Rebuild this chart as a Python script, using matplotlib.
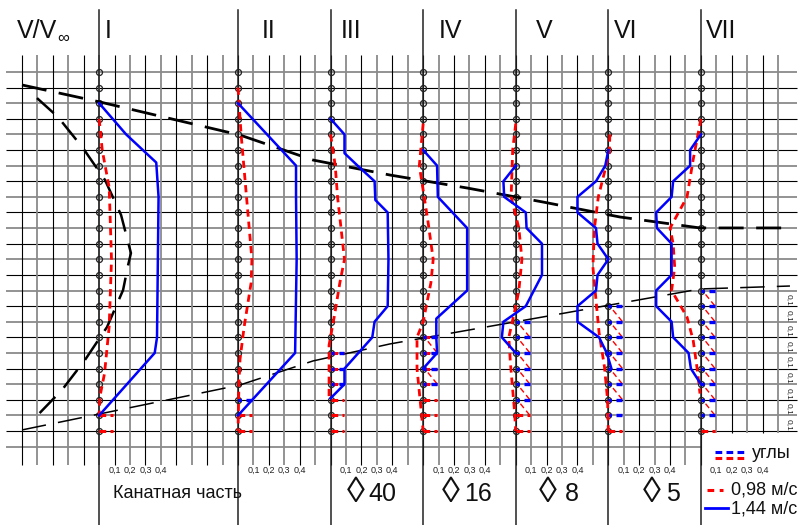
import matplotlib
matplotlib.use('Agg')
import matplotlib.pyplot as plt
import numpy as np

plt.rcParams['font.family'] = ['Liberation Sans', 'DejaVu Sans']

# ---------------- data ----------------
stations = ['I', 'II', 'III', 'IV', 'V', 'VI', 'VII']
station_col = [5, 14, 20, 26, 32, 38, 44]          # grid column of each baseline
n_rows = 24                                          # measuring points per station
tick_vals = [0.1, 0.2, 0.3, 0.4]
tick_labels = ['0,1', '0,2', '0,3', '0,4']

# V/Vinf profiles: rows (point index) and offsets from baseline
red_I_rows = [3, 5, 7.4, 12, 16.3, 19.3, 20.8, 22]
red_I_vals = [0, 0.02, 0.065, 0.08, 0.065, 0.035, 0.005, 0]
blue_I_rows = [2, 4, 5.8, 8, 17, 18, 22]
blue_I_vals = [0, 0.175, 0.37, 0.385, 0.375, 0.36, 0]

red_II_rows = [1, 4, 8, 12, 13.5, 16.3, 18.4, 19.9, 23]
red_II_vals = [0, 0.02, 0.055, 0.09, 0.085, 0.04, 0.013, 0.006, 0]
blue_II_rows = [2, 6, 8, 12, 18, 22]
blue_II_vals = [0, 0.376, 0.376, 0.38, 0.37, 0]

red_III_rows = [4, 6, 8, 12, 13.5, 15.6, 17.5, 21]
red_III_vals = [0, 0.03, 0.045, 0.09, 0.06, 0.025, -0.01, -0.01]
blue_III_rows = [3, 4, 5.2, 6, 7, 8.2, 9, 12, 15, 16, 17, 19, 20, 20.9]
blue_III_vals = [0, 0.09, 0.09, 0.175, 0.285, 0.29, 0.37, 0.375, 0.37, 0.285, 0.27, 0.09, 0.09, 0]

red_IV_rows = [3.3, 6, 9.5, 12, 13.5, 16, 17, 19, 21, 23]
red_IV_vals = [0, -0.025, 0.03, 0.065, 0.05, 0, -0.04, -0.04, -0.02, 0]
blue_IV_rows = [5, 6, 8, 10, 14, 15.8, 17, 18, 19]
blue_IV_vals = [0, 0.09, 0.095, 0.285, 0.285, 0.085, 0.085, 0.09, 0]

red_V_rows = [3.3, 5, 8, 10, 12, 14, 15, 17, 18.6, 21.5, 23]
red_V_vals = [0, -0.02, -0.03, 0.02, 0.04, 0.02, 0, -0.045, -0.035, -0.01, 0]
blue_V_rows = [6, 7, 8, 9, 10, 11, 13, 15, 16, 17, 18]
blue_V_vals = [0, -0.08, -0.075, 0.065, 0.07, 0.17, 0.17, 0.065, -0.08, -0.09, 0]

red_VI_rows = [4, 5.2, 8, 10, 12.5, 14.6, 16.7, 18.9, 21, 23]
red_VI_vals = [0.01, 0.006, -0.065, -0.09, -0.1, -0.08, -0.06, -0.025, -0.005, 0]
blue_VI_rows = [5, 6, 7, 8, 9, 10, 11, 12, 13, 14, 15, 16, 17, 18, 19]
blue_VI_vals = [0, -0.02, -0.08, -0.2, -0.2, -0.08, -0.07, 0, -0.07, -0.08, -0.2, -0.2, -0.06, -0.01, 0.02]

red_VII_rows = [3, 5.6, 8, 10, 11, 12.5, 14, 15.7, 17.2, 18.9, 20.6]
red_VII_vals = [0, -0.05, -0.09, -0.2, -0.18, -0.17, -0.19, -0.09, -0.05, -0.026, -0.006]
blue_VII_rows = [4, 5, 6, 7, 8, 9, 10, 11, 12, 13, 14, 15, 16, 17, 18, 19, 20]
blue_VII_vals = [0, -0.07, -0.07, -0.18, -0.19, -0.29, -0.285, -0.19, -0.19, -0.19,
                 -0.29, -0.29, -0.19, -0.18, -0.08, -0.065, 0]

red_profiles = [(red_I_rows, red_I_vals), (red_II_rows, red_II_vals), (red_III_rows, red_III_vals),
                (red_IV_rows, red_IV_vals), (red_V_rows, red_V_vals), (red_VI_rows, red_VI_vals),
                (red_VII_rows, red_VII_vals)]
blue_profiles = [(blue_I_rows, blue_I_vals), (blue_II_rows, blue_II_vals), (blue_III_rows, blue_III_vals),
                 (blue_IV_rows, blue_IV_vals), (blue_V_rows, blue_V_vals), (blue_VI_rows, blue_VI_vals),
                 (blue_VII_rows, blue_VII_vals)]

# flow angle markers ("углы")
angle_blue_rows = [[], [21], [18, 19, 20], [17, 18, 19, 20], [16, 17, 18, 19, 20, 21],
                   [15, 16, 17, 18, 19, 20, 21, 22], [14, 15, 16, 17, 18, 19, 20, 21, 22]]
angle_red_rows = [[22, 23], [22, 23], [18, 19, 20, 21, 22, 23], [17, 18, 19, 20, 21, 22, 23],
                  [22, 23], [23], [23]]
angle_slant_rows = [[], [], [], [17, 19], [16, 17, 18, 19, 20, 21],
                    [15, 16, 17, 18, 19, 20], [14, 15, 16, 17, 18, 19, 20, 21]]
angle_len = 0.09

# boundary lines (column, row)
upper_edge_col = [0, 5.05, 14.13, 18.86, 23.85, 28.84, 33.77, 38.76, 43.94, 49.77]
upper_edge_row = [0.83, 1.92, 4.04, 5.64, 6.6, 7.43, 8.33, 9.29, 9.99, 9.99]
left_curve_col = [0.97, 2.33, 3.95, 5.38, 6.42, 7.06, 6.87, 6.55, 5.51, 4.08, 2.59, 0.71]
left_curve_row = [1.67, 2.88, 4.87, 6.92, 9.16, 11.6, 12.4, 13.97, 16.34, 18.45, 20.37, 22.29]
lower_edge_col = [0, 14.13, 18.86, 23.85, 33.77, 43.94, 49.77]
lower_edge_row = [22.93, 20.05, 18.51, 17.42, 15.69, 13.90, 13.71]

bottom_names = ['Канатная часть', '40', '16', '8', '5']

# ---------------- layout ----------------
W, H = 798, 525
X0, DX = 22.0, 15.43     # pixel of column 0, pixels per column
Y0, DY = 72.0, 15.61     # pixel of row 0, pixels per row
SCALE = 10.0             # columns per unit of V/Vinf


def px(x):
    return (x - X0) / DX


def py(y):
    return (y - Y0) / DY


fig = plt.figure(figsize=(W / 100, H / 100), dpi=100)
ax = fig.add_axes([0, 0, 1, 1])
ax.set_xlim(px(0), px(W))
ax.set_ylim(py(H), py(0))
ax.axis('off')

GRAY = '#8a8a8a'
# horizontal grid
for r in range(25):
    xr = px(797) if r < 24 else px(701)
    ax.plot([px(6), xr], [r, r], color=('k' if r % 2 else GRAY),
            lw=(0.8 if r % 2 else 1.3), zorder=1, solid_capstyle='butt')
# vertical grid
for k in range(50):
    ybot = py(465) if k <= 44 else py(433)
    ax.plot([k, k], [py(55), ybot], color=('k' if k % 2 == 0 else GRAY),
            lw=(0.8 if k % 2 == 0 else 1.3), zorder=1, solid_capstyle='butt')
# station baselines
for c in station_col:
    ax.plot([c, c], [py(10), py(525)], color='#222222', lw=1.1, zorder=2)
    ax.plot(np.full(n_rows, c), np.arange(n_rows), 'o', ms=4.3, mfc='none',
            mec='#222222', mew=0.9, zorder=3)

# boundary (dashed black) lines
ax.plot(upper_edge_col, upper_edge_row, color='k', lw=2.0, ls=(0, (9, 4.5)), zorder=4)
ax.plot(left_curve_col, left_curve_row, color='k', lw=1.8, ls=(0, (9, 5)), zorder=4)
ax.plot(lower_edge_col, lower_edge_row, color='k', lw=1.1, ls=(0, (16, 8)), zorder=4)

RED = '#ff0000'
BLUE = '#0000ff'
# angle markers
for c, br, rr, sr in zip(station_col, angle_blue_rows, angle_red_rows, angle_slant_rows):
    for r in rr:
        ax.plot([c, c + angle_len * SCALE], [r, r], color=RED, lw=2.2,
                ls=(0, (2.2, 1.4)), zorder=5)
    for r in sr:
        ax.plot([c + 0.03 * SCALE, c + 0.1 * SCALE], [r + 0.25, r + 1.1], color=RED,
                lw=1.0, ls=(0, (4, 2.5)), zorder=5)
    for r in br:
        ax.plot([c, c + angle_len * SCALE], [r, r], color=BLUE, lw=2.4,
                ls=(1.2, (2.2, 1.4)), zorder=6)

# velocity profiles
for c, (rows, vals) in zip(station_col, red_profiles):
    ax.plot(c + np.array(vals) * SCALE, rows, color=RED, lw=2.0,
            ls=(0, (2.6, 1.8)), zorder=7)
for c, (rows, vals) in zip(station_col, blue_profiles):
    ax.plot(c + np.array(vals) * SCALE, rows, color=BLUE, lw=1.8, zorder=8)

# ---------------- texts ----------------
ax.text(px(17), py(31), 'V/V', fontsize=18, va='center', ha='left', color='#111111')
ax.text(px(57), py(38), '∞', fontsize=12, va='center', ha='left', color='#111111')
label_px = [105, 262, 341, 439, 536, 614, 706]
for name, lx in zip(stations, label_px):
    ax.text(px(lx), py(31), name, fontsize=18, va='center', ha='left', color='#111111')

for c in station_col:
    for v, t in zip(tick_vals, tick_labels):
        ax.text(c + v * SCALE, py(470), t, fontsize=6.5, ha='center', va='center',
                color='#222222')

ax.text(px(113), py(493), bottom_names[0], fontsize=13, ha='left', va='center',
        color='#111111')
diamond_px = [356, 451, 548, 652]
number_px = [368, 464, 565, 666]
for name, dxp, nxp in zip(bottom_names[1:], diamond_px, number_px):
    ax.text(px(dxp), py(492), '◊', fontsize=26, ha='center', va='center', color='#111111')
    ax.text(px(nxp), py(494), name, fontsize=18, ha='left', va='center', color='#111111')

# right side rotated labels
for i in range(9):
    ax.text(px(789), 14.6 + i, '0,1', fontsize=6, rotation=-90, ha='center',
            va='center', color='#222222')

# legend
ax.plot([px(715), px(747)], [py(452), py(452)], color=BLUE, lw=2.2, ls=(0, (2.2, 1.4)))
ax.plot([px(715), px(747)], [py(458), py(458)], color=RED, lw=2.2, ls=(0, (2.2, 1.4)))
ax.text(px(752), py(454), 'углы', fontsize=13, ha='left', va='center', color='#111111')
ax.plot([px(707), px(723)], [py(490), py(490)], color=RED, lw=2.2, ls=(0, (2.2, 1.8)))
ax.text(px(731), py(490), '0,98 м/с', fontsize=13, ha='left', va='center', color='#111111')
ax.plot([px(705), px(728)], [py(508), py(508)], color=BLUE, lw=2.0)
ax.text(px(731), py(509), '1,44 м/с', fontsize=13, ha='left', va='center', color='#111111')

fig.savefig('out.png', dpi=100)
